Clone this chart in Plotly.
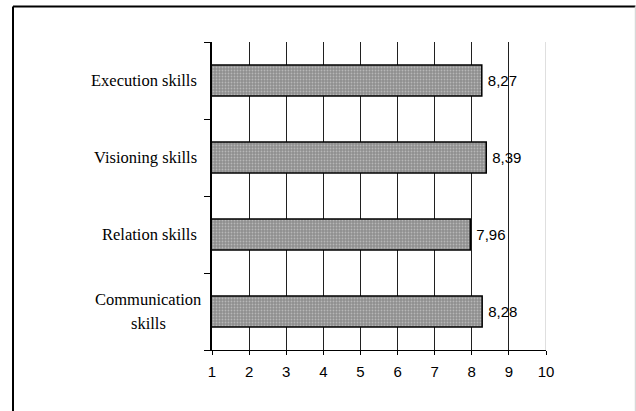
import plotly.graph_objects as go

categories = ["Communication skills", "Relation skills", "Visioning skills", "Execution skills"]
label_lines = [["Communication", "skills"], ["Relation skills"], ["Visioning skills"], ["Execution skills"]]
values = [8.28, 7.96, 8.39, 8.27]
x_ticks = [1, 2, 3, 4, 5, 6, 7, 8, 9, 10]

W, H = 636, 411
L, R, T, B = 212, 90, 42, 61
pw = W - L - R
ph = H - T - B

fig = go.Figure()
fig.add_trace(go.Bar(
    y=categories, x=values, orientation="h",
    marker=dict(
        color="#949494",
        line=dict(color="black", width=1.5),
        pattern=dict(shape=".", fgcolor="#e0e0e0", bgcolor="#8e8e8e", size=3, solidity=0.3),
    ),
    texttemplate="\u2009%{x:.2f}", textposition="outside",
    textfont=dict(family="Liberation Sans, Arial", size=15, color="black"),
    cliponaxis=False,
    width=0.4,
))

annotations = []
for cat, lines in zip(categories, label_lines):
    if len(lines) == 1:
        annotations.append(dict(x=0, xref="paper", y=cat, yref="y", text=lines[0],
                                xanchor="right", yanchor="middle", xshift=-13, showarrow=False,
                                font=dict(family="Liberation Serif, Times New Roman", size=16.5, color="black")))
    else:
        n = len(lines)
        for i, ln in enumerate(lines):
            annotations.append(dict(x=0, xref="paper", y=cat, yref="y", text=ln,
                                    xanchor="center", yanchor="middle", xshift=-64,
                                    yshift=((n - 1) / 2 - i) * 23.5, showarrow=False,
                                    font=dict(family="Liberation Serif, Times New Roman", size=16.5, color="black")))

shapes = [
    dict(type="line", xref="x", yref="paper", x0=x_ticks[-1], x1=x_ticks[-1], y0=0, y1=1,
         line=dict(color="#d4d4d4", width=1.5)),
    dict(type="line", xref="paper", yref="paper", x0=(13 - L) / pw, x1=(W - 0.5 - L) / pw,
         y0=1 + (T - 6.5) / ph, y1=1 + (T - 6.5) / ph, line=dict(color="black", width=2)),
    dict(type="line", xref="paper", yref="paper", x0=(13 - L) / pw, x1=(13 - L) / pw,
         y0=1 + (T - 6.5) / ph, y1=-(H + 10 - (H - B)) / ph, line=dict(color="black", width=2)),
    dict(type="line", xref="paper", yref="paper", x0=(W - 0.5 - L) / pw, x1=(W - 0.5 - L) / pw,
         y0=1 + (T - 6.5) / ph, y1=-(H + 10 - (H - B)) / ph, line=dict(color="#d8d8d8", width=1.5)),
]

fig.update_layout(
    width=W, height=H,
    margin=dict(l=L, r=R, t=T, b=B, pad=0),
    paper_bgcolor="white", plot_bgcolor="white",
    separators=",.",
    showlegend=False,
    bargap=0.6,
    annotations=annotations,
    shapes=shapes,
    xaxis=dict(
        range=[x_ticks[0], x_ticks[-1]],
        tickmode="array", tickvals=x_ticks, ticktext=[str(v) for v in x_ticks],
        showgrid=True, gridcolor="#202020", gridwidth=1,
        showline=True, linecolor="black", linewidth=1,
        ticks="outside", ticklen=4, tickcolor="black",
        ticklabelstandoff=4,
        tickfont=dict(family="Liberation Sans, Arial", size=15, color="black"),
        zeroline=False, fixedrange=True,
    ),
    yaxis=dict(
        type="category", categoryorder="array", categoryarray=categories,
        showticklabels=False,
        tickson="boundaries",
        ticks="outside", ticklen=6, tickcolor="black",
        showline=True, linecolor="black", linewidth=1.5,
        showgrid=False, zeroline=False, fixedrange=True,
    ),
)

fig.write_html("out.html")
